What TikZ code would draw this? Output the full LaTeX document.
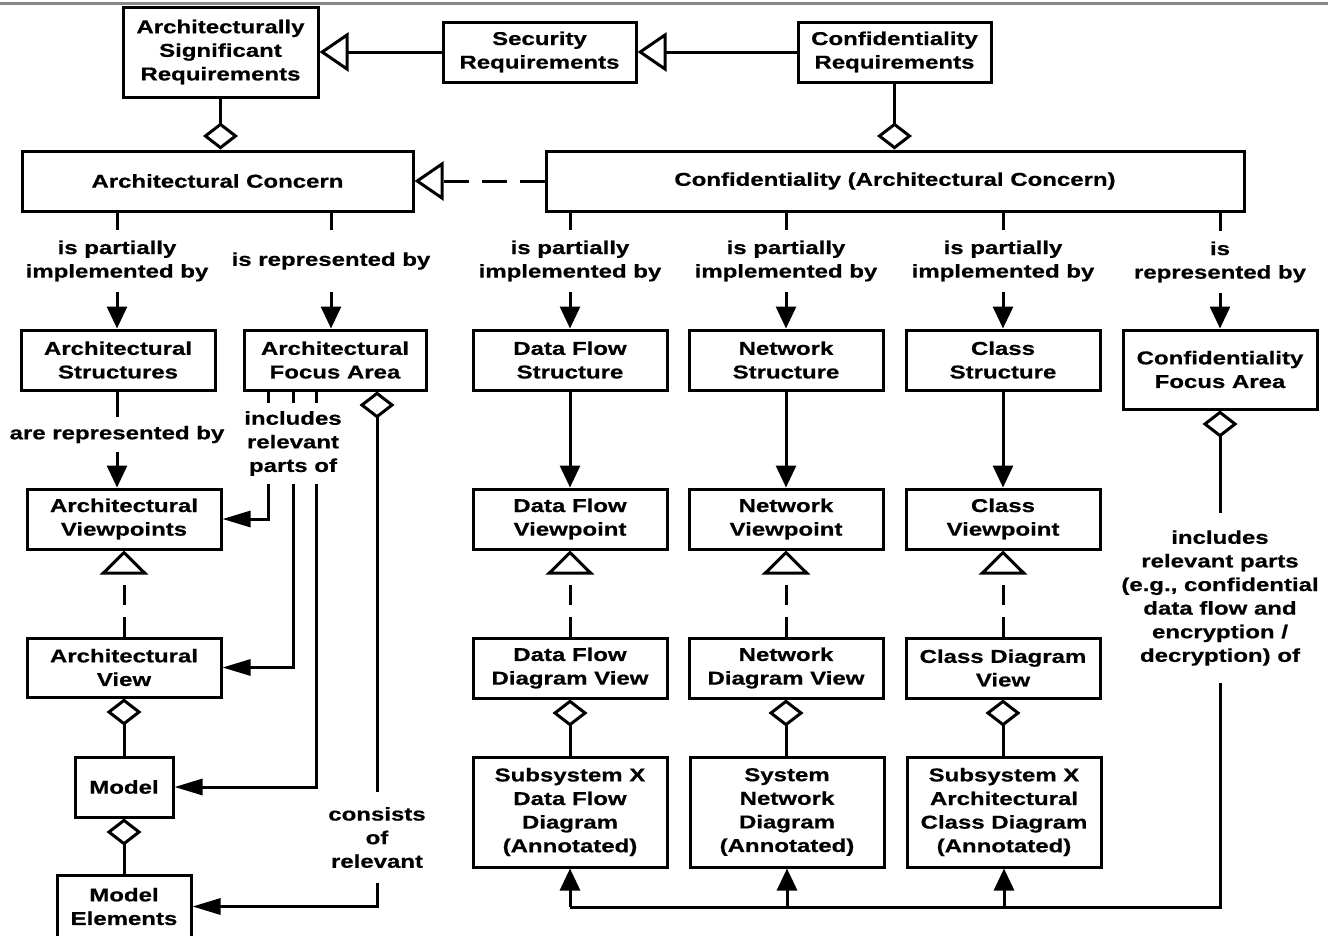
\documentclass[tikz,border=0pt]{standalone}
\usepackage{fontspec}
\newfontfamily\diafont[FakeStretch=1.29, BoldFeatures={FakeBold=0.6}]{Liberation Sans}
\usetikzlibrary{arrows.meta,calc}
\tikzset{
  txt/.style={font=\diafont\bfseries\fontsize{18.6pt}{23.6pt}\selectfont},
  box/.style={txt, draw, line width=3pt, inner sep=0pt, align=center, fill=white},
  lab/.style={txt, inner sep=0pt, align=center},
  conn/.style={line width=3pt},
  arrV/.style={-{Triangle[length=22pt,width=20pt]}},
  arrH/.style={-{Triangle[length=28pt,width=16pt]}},
  genV/.style={-{Triangle[open,length=24pt,width=48pt]}},
  genH/.style={-{Triangle[open,length=29pt,width=39pt]}},
  aggV/.style={{Diamond[open,length=27pt,width=35pt]}-},
  dashH/.style={dash pattern=on 25pt off 13pt},
  dashV/.style={dash pattern=on 20pt off 12pt},
}
\begin{document}
\begin{tikzpicture}[x=1pt,y=-1pt]
\useasboundingbox (0,0) rectangle (1328,935);
% rule along the top edge
\draw[line width=2.6pt, color={rgb,255:red,136;green,136;blue,136}] (0,3.3) -- (1328,3.3);

% requirements row
\node[box, minimum width=195pt, minimum height=90pt] (asr) at (220.5,52) {Architecturally\\Significant\\Requirements};
\node[box, minimum width=193pt, minimum height=60pt] (sec) at (539.5,52) {Security\\Requirements};
\node[box, minimum width=193pt, minimum height=60pt] (creq) at (894.5,52) {Confidentiality\\Requirements};

% concerns row
\node[box, minimum width=391pt, minimum height=60pt] (ac) at (217.5,181) {Architectural Concern};
\node[box, minimum width=698pt, minimum height=60pt] (cac) at (895,181) {Confidentiality (Architectural Concern)};

\draw[conn, genH] (sec.west) -- (asr.east);
\draw[conn, genH] (creq.west) -- (sec.east);
\draw[conn, dashH, genH] (cac.west) -- (ac.east);
\draw[conn, aggV] (ac.north -| asr.south) -- (asr.south);
\draw[conn, aggV] (cac.north -| creq.south) -- (creq.south);

% generic architecture column
\node[box, minimum width=194pt, minimum height=60pt] (as) at (118,360) {Architectural\\Structures};
\node[box, minimum width=182pt, minimum height=60pt] (afa) at (335,360) {Architectural\\Focus Area};
\node[box, minimum width=194pt, minimum height=60pt] (avp) at (124,519) {Architectural\\Viewpoints};
\node[box, minimum width=194pt, minimum height=59pt] (av) at (124,667.5) {Architectural\\View};
\node[box, minimum width=98pt, minimum height=60pt] (model) at (124,787) {Model};
\node[box, minimum width=134pt, minimum height=62pt] (me) at (124,906.5) {Model\\Elements};

\node[lab, minimum height=62pt] (l1) at (117,261) {is partially\\implemented by};
\node[lab, minimum height=62pt] (l2) at (331,261) {is represented by};
\node[lab, minimum height=35pt] (l3) at (117,434.5) {are represented by};
\node[lab, minimum height=81pt] (l4) at (293,443.5) {includes\\relevant\\parts of};
\node[lab, minimum height=91pt] (l5) at (377,837.5) {consists\\of\\relevant};

\coordinate (k1) at (268,0);
\coordinate (k2) at (293,0);
\coordinate (k3) at (316,0);

\draw[conn] (ac.south -| l1) -- (l1.north);
\draw[conn, arrV] (l1.south) -- (as.north -| l1);
\draw[conn] (ac.south -| l2) -- (l2.north);
\draw[conn, arrV] (l2.south) -- (afa.north -| l2);
\draw[conn] (as.south -| l3) -- (l3.north);
\draw[conn, arrV] (l3.south) -- (avp.north -| l3);

\draw[conn] (afa.south -| k1) -- (l4.north -| k1);
\draw[conn] (afa.south -| k2) -- (l4.north -| k2);
\draw[conn] (afa.south -| k3) -- (l4.north -| k3);
\draw[conn, arrH] (l4.south -| k1) |- (avp.east);
\draw[conn, arrH] (l4.south -| k2) |- (av.east);
\draw[conn, arrH] (l4.south -| k3) |- (model.east);

\draw[conn, aggV] (afa.south -| l5) -- (l5.north);
\draw[conn, arrH] (l5.south) |- (me.east);

\draw[conn, dashV, genV] (av.north) -- (avp.south);
\draw[conn, aggV] (av.south) -- (model.north);
\draw[conn, aggV] (model.south) -- (me.north);

% confidentiality columns
\node[box, minimum width=194pt, minimum height=60pt] (dfs) at (570,360) {Data Flow\\Structure};
\node[box, minimum width=194pt, minimum height=60pt] (ns) at (786,360) {Network\\Structure};
\node[box, minimum width=194pt, minimum height=60pt] (cs) at (1003,360) {Class\\Structure};
\node[box, minimum width=194pt, minimum height=79pt] (cfa) at (1220,369.5) {Confidentiality\\Focus Area};

\node[box, minimum width=194pt, minimum height=60pt] (dfv) at (570,519) {Data Flow\\Viewpoint};
\node[box, minimum width=194pt, minimum height=60pt] (nv) at (786,519) {Network\\Viewpoint};
\node[box, minimum width=194pt, minimum height=60pt] (cv) at (1003,519) {Class\\Viewpoint};

\node[box, minimum width=194pt, minimum height=60pt] (dfdv) at (570,668) {Data Flow\\Diagram View};
\node[box, minimum width=194pt, minimum height=60pt] (ndv) at (786,668) {Network\\Diagram View};
\node[box, minimum width=194pt, minimum height=60pt] (cdv) at (1003,668) {Class Diagram\\View};

\node[box, minimum width=194pt, minimum height=110pt] (sdf) at (570,812) {Subsystem X\\Data Flow\\Diagram\\(Annotated)};
\node[box, minimum width=194pt, minimum height=110pt] (snd) at (787,812) {System\\Network\\Diagram\\(Annotated)};
\node[box, minimum width=194pt, minimum height=110pt] (scd) at (1004,812) {Subsystem X\\Architectural\\Class Diagram\\(Annotated)};

\node[lab, minimum height=62pt] (r1) at (570,261) {is partially\\implemented by};
\node[lab, minimum height=62pt] (r2) at (786,261) {is partially\\implemented by};
\node[lab, minimum height=62pt] (r3) at (1003,261) {is partially\\implemented by};
\node[lab, minimum height=62pt] (r4) at (1220,262) {is\\represented by};
\node[lab, minimum height=170pt] (r5) at (1220,598) {includes\\relevant parts\\(e.g., confidential\\data flow and\\encryption /\\decryption) of};

\foreach \lb/\st/\vp/\dv/\ex in {r1/dfs/dfv/dfdv/sdf, r2/ns/nv/ndv/snd, r3/cs/cv/cdv/scd} {
  \draw[conn] (cac.south -| \lb) -- (\lb.north);
  \draw[conn, arrV] (\lb.south) -- (\st.north);
  \draw[conn, arrV] (\st.south) -- (\vp.north);
  \draw[conn, dashV, genV] (\dv.north) -- (\vp.south);
  \draw[conn, aggV] (\dv.south) -- (\dv.south |- \ex.north);
}
\draw[conn] (cac.south -| r4) -- (r4.north);
\draw[conn, arrV] (r4.south) -- (cfa.north);
\draw[conn, aggV] (cfa.south) -- (r5.north);

\coordinate (rail) at (0,907);
\draw[conn] (r5.south) -- (r5.south |- rail) -- (sdf.south |- rail);
\draw[conn, arrV] (sdf.south |- rail) -- (sdf.south);
\draw[conn, arrV] (snd.south |- rail) -- (snd.south);
\draw[conn, arrV] (scd.south |- rail) -- (scd.south);
\end{tikzpicture}
\end{document}
